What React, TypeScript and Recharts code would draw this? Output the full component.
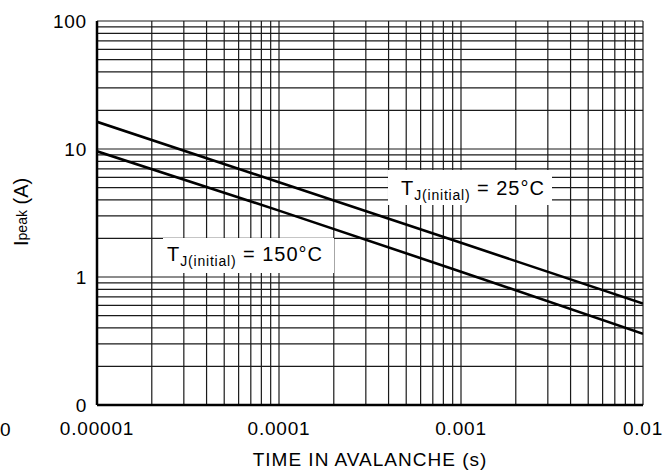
import React from "react";
import {
  LineChart,
  Line,
  XAxis,
  YAxis,
  CartesianGrid,
} from "recharts";

// time in avalanche (s)
const times = [0.00001, 0.0001, 0.001, 0.01];
// peak current (A)
const ipeak25 = [16.3, 5.5, 1.85, 0.62];
const ipeak150 = [9.6, 3.3, 1.1, 0.36];

// gridlines at 1..9 of every decade
const xTicks = [
  0.00001, 0.00002, 0.00003, 0.00004, 0.00005, 0.00006, 0.00007, 0.00008, 0.00009,
  0.0001, 0.0002, 0.0003, 0.0004, 0.0005, 0.0006, 0.0007, 0.0008, 0.0009,
  0.001, 0.002, 0.003, 0.004, 0.005, 0.006, 0.007, 0.008, 0.009,
  0.01,
];
const yTicks = [
  0.1, 0.2, 0.3, 0.4, 0.5, 0.6, 0.7, 0.8, 0.9,
  1, 2, 3, 4, 5, 6, 7, 8, 9,
  10, 20, 30, 40, 50, 60, 70, 80, 90,
  100,
];
const xTickLabels = ["0.00001", "0.0001", "0.001", "0.01"];
const xTickLabelValues = [0.00001, 0.0001, 0.001, 0.01];
const yTickLabels = ["0", "1", "10", "100"];
const yTickLabelValues = [0.1, 1, 10, 100];

const FONT = "'Liberation Sans', Arial, Helvetica, sans-serif";

const data = times.map((t, i) => ({
  t,
  tj25: ipeak25[i],
  tj150: ipeak150[i],
}));

const fmtX = (v: number) => {
  const i = xTickLabelValues.indexOf(v);
  return i >= 0 ? xTickLabels[i] : "";
};
const fmtY = (v: number) => {
  const i = yTickLabelValues.indexOf(v);
  return i >= 0 ? yTickLabels[i] : "";
};

export default function App() {
  return (
    <div
      style={{
        position: "absolute",
        left: 0,
        top: 0,
        width: 671,
        height: 475,
        background: "#fff",
        fontFamily: FONT,
        overflow: "hidden",
      }}
    >
      <LineChart
        width={671}
        height={475}
        data={data}
        margin={{ top: 21, right: 28, left: 0, bottom: 40 }}
      >
        <CartesianGrid stroke="#1a1a1a" strokeWidth={1.2} />
        <XAxis
          dataKey="t"
          type="number"
          scale="log"
          domain={[0.00001, 0.01]}
          ticks={xTicks}
          interval={0}
          allowDataOverflow
          tickFormatter={fmtX}
          tickLine={false}
          tickSize={0}
          tickMargin={17}
          height={30}
          axisLine={{ stroke: "#000", strokeWidth: 2.5 }}
          tick={{ fontSize: 19, fill: "#000", fontFamily: FONT, letterSpacing: 0.8 }}
        />
        <YAxis
          type="number"
          scale="log"
          domain={[0.1, 100]}
          ticks={yTicks}
          interval={0}
          allowDataOverflow
          width={97}
          tickFormatter={fmtY}
          tickLine={false}
          tickSize={0}
          tickMargin={10}
          axisLine={{ stroke: "#000", strokeWidth: 2.5 }}
          tick={{ fontSize: 19, fill: "#000", fontFamily: FONT, letterSpacing: 0.8 }}
        />
        <Line
          dataKey="tj25"
          stroke="#000"
          strokeWidth={2.6}
          dot={false}
          type="linear"
          isAnimationActive={false}
        />
        <Line
          dataKey="tj150"
          stroke="#000"
          strokeWidth={2.6}
          dot={false}
          type="linear"
          isAnimationActive={false}
        />
      </LineChart>
      <svg
        width={671}
        height={475}
        style={{ position: "absolute", left: 0, top: 0, pointerEvents: "none" }}
        fontFamily={FONT}
      >
        <rect x={388} y={170} width={164} height={35} fill="#fff" />
        <text x={401} y={195} fontSize={20} letterSpacing={1} fill="#000">
          T
          <tspan fontSize={14} dy={5} letterSpacing={0.8}>
            J(initial)
          </tspan>
          <tspan dy={-5}> = 25°C</tspan>
        </text>
        <rect x={163} y={238} width={171} height={35} fill="#fff" />
        <text x={167} y={261} fontSize={20} letterSpacing={1} fill="#000">
          T
          <tspan fontSize={14} dy={5} letterSpacing={0.8}>
            J(initial)
          </tspan>
          <tspan dy={-5}> = 150°C</tspan>
        </text>
        <text
          x={370}
          y={466}
          fontSize={19}
          letterSpacing={1}
          textAnchor="middle"
          fill="#000"
        >
          TIME IN AVALANCHE (s)
        </text>
        <text
          transform="translate(28,246) rotate(-90)"
          fontSize={20}
          fill="#000"
        >
          I
          <tspan fontSize={14} dy={-1}>
            peak
          </tspan>
          <tspan dy={1}> (A)</tspan>
        </text>
        <text x={0} y={436} fontSize={19} fill="#000">
          0
        </text>
      </svg>
    </div>
  );
}
